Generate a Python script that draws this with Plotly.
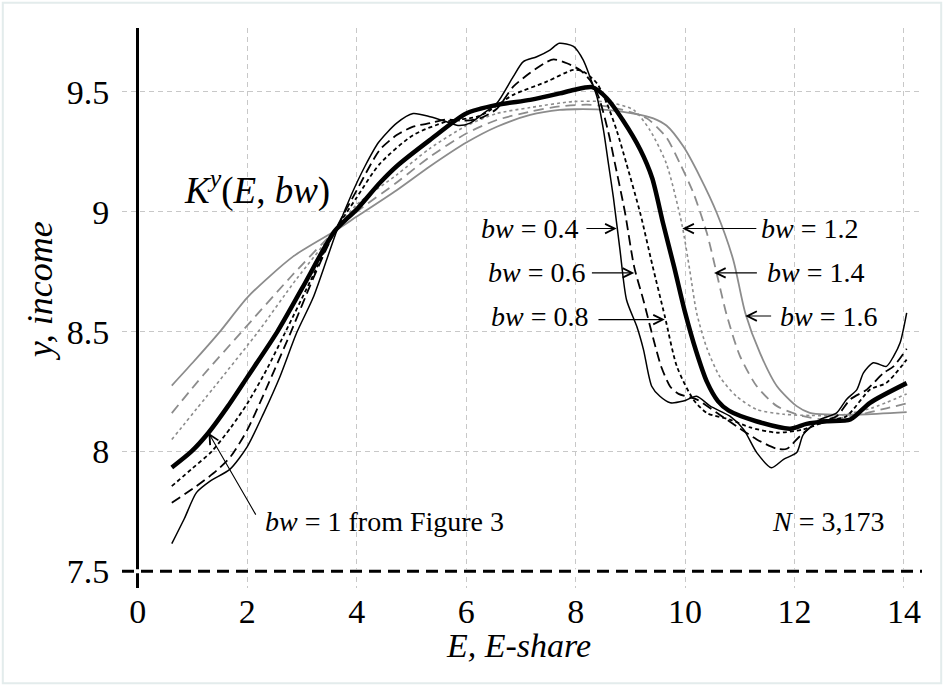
import plotly.graph_objects as go

# Kernel regression K^y(E, bw) of log income on E-share, for seven bandwidths
e_04 = [0.62, 0.85, 1.07, 1.32, 1.68, 2.0, 2.3, 2.6, 2.9, 3.2, 3.45, 3.65, 3.9, 4.15, 4.4, 4.73,
        5.03, 5.34, 5.64, 5.85, 6.07, 6.31, 6.56, 6.86, 7.04, 7.29, 7.53, 7.7, 7.96, 8.14, 8.26,
        8.39, 8.51, 8.6, 8.69, 8.81, 8.93, 9.12, 9.24, 9.39, 9.54, 9.73, 9.97, 10.21, 10.46,
        10.82, 11.07, 11.31, 11.58, 11.8, 12.04, 12.16, 12.47, 12.77, 12.95, 13.14, 13.26,
        13.44, 13.68, 13.81, 13.93, 14.05]
y_04 = [7.615, 7.72, 7.828, 7.876, 7.925, 8.02, 8.16, 8.314, 8.494, 8.64, 8.80, 8.93, 9.07,
        9.19, 9.29, 9.37, 9.41, 9.397, 9.376, 9.36, 9.37, 9.41, 9.453, 9.564, 9.626, 9.647,
        9.675, 9.703, 9.69, 9.633, 9.564, 9.48, 9.34, 9.20, 9.06, 8.842, 8.633, 8.52, 8.425,
        8.272, 8.23, 8.203, 8.21, 8.23, 8.189, 8.147, 8.092, 7.995, 7.932, 7.967, 7.995, 8.07,
        8.133, 8.161, 8.217, 8.258, 8.328, 8.37, 8.355, 8.397, 8.453, 8.578]

e_06 = [0.62, 1.07, 1.44, 1.7, 2.0, 2.4, 2.8, 3.2, 3.6, 4.0, 4.42, 4.73, 5.03, 5.34, 5.64,
        5.95, 6.25, 6.56, 6.86, 7.17, 7.47, 7.6, 7.84, 8.08, 8.26, 8.42, 8.6, 8.72, 8.9, 9.07,
        9.24, 9.42, 9.57, 9.73, 9.88, 10.21, 10.58, 10.94, 11.31, 11.68, 11.86, 12.1, 12.41,
        12.77, 13.02, 13.32, 13.63, 13.81, 14.05]
y_06 = [7.786, 7.855, 7.92, 7.98, 8.09, 8.29, 8.5, 8.72, 8.92, 9.09, 9.258, 9.32, 9.355, 9.37,
        9.385, 9.38, 9.39, 9.43, 9.522, 9.58, 9.625, 9.636, 9.62, 9.592, 9.55, 9.48, 9.33,
        9.2, 9.0, 8.77, 8.63, 8.47, 8.35, 8.27, 8.24, 8.217, 8.161, 8.105, 8.05, 8.011, 8.011,
        8.064, 8.12, 8.147, 8.217, 8.258, 8.328, 8.355, 8.428]

e_08 = [0.62, 1.0, 1.35, 1.7, 2.0, 2.35, 2.7, 3.15, 3.6, 4.0, 4.42, 5.03, 5.64, 6.25, 6.86,
        7.47, 7.96, 8.14, 8.39, 8.57, 8.75, 8.93, 9.18, 9.4, 9.63, 9.85, 10.15, 10.4, 10.82,
        11.19, 11.68, 12.16, 12.59, 12.95, 13.38, 13.68, 14.05]
y_08 = [7.855, 7.93, 8.0, 8.1, 8.2, 8.34, 8.5, 8.71, 8.92, 9.06, 9.2, 9.32, 9.376, 9.40, 9.488,
        9.543, 9.592, 9.585, 9.536, 9.453, 9.34, 9.2, 8.995, 8.78, 8.564, 8.355, 8.217, 8.16,
        8.133, 8.1, 8.078, 8.092, 8.126, 8.147, 8.258, 8.286, 8.383]

e_10 = [0.62, 0.98, 1.29, 1.65, 2.0, 2.55, 3.0, 3.6, 4.0, 4.42, 4.73, 5.34, 6.0, 6.56, 7.17,
        7.71, 7.96, 8.3, 8.57, 8.87, 9.18, 9.4, 9.6, 9.8, 10.0, 10.2, 10.4, 10.6, 10.8, 11.3,
        11.92, 12.22, 12.59, 13.02, 13.38, 14.05]
y_10 = [7.933, 8.0, 8.078, 8.19, 8.31, 8.5, 8.68, 8.92, 9.01, 9.12, 9.19, 9.3, 9.41, 9.446,
        9.467, 9.494, 9.508, 9.52, 9.474, 9.38, 9.26, 9.14, 8.95, 8.77, 8.58, 8.42, 8.29,
        8.21, 8.17, 8.126, 8.095, 8.115, 8.126, 8.133, 8.203, 8.285]

e_12 = [0.62, 1.4, 2.2, 2.9, 3.6, 4.0, 4.73, 5.34, 6.01, 6.56, 7.17, 7.96, 8.57, 9.06, 9.36,
        9.66, 9.94, 10.09, 10.21, 10.4, 10.64, 10.94, 11.31, 11.8, 12.3, 12.8, 13.4, 14.05]
y_12 = [8.05, 8.27, 8.5, 8.72, 8.92, 9.03, 9.154, 9.265, 9.36, 9.41, 9.435, 9.46, 9.458, 9.425,
        9.34, 9.2, 8.95, 8.75, 8.58, 8.43, 8.31, 8.23, 8.175, 8.155, 8.15, 8.15, 8.18, 8.24]

e_14 = [0.62, 1.2, 1.9, 2.8, 3.6, 4.0, 4.73, 5.34, 6.01, 6.56, 7.17, 7.71, 8.2, 8.57, 8.87,
        9.3, 9.66, 9.91, 10.15, 10.4, 10.55, 10.76, 11.0, 11.31, 11.68, 12.16, 12.59, 13.2,
        13.68, 14.05]
y_14 = [8.16, 8.32, 8.5, 8.73, 8.92, 9.0, 9.122, 9.23, 9.328, 9.383, 9.418, 9.44, 9.447, 9.44,
        9.425, 9.39, 9.31, 9.2, 9.08, 8.91, 8.77, 8.57, 8.4, 8.272, 8.189, 8.147, 8.133, 8.154,
        8.18, 8.2]

e_16 = [0.62, 1.0, 1.5, 2.02, 2.84, 3.6, 4.0, 4.73, 5.34, 6.01, 6.56, 7.17, 7.71, 8.0, 8.57,
        9.06, 9.42, 9.66, 9.97, 10.27, 10.58, 10.88, 11.1, 11.37, 11.68, 12.04, 12.28, 12.59,
        13.2, 14.05]
y_16 = [8.275, 8.37, 8.5, 8.647, 8.814, 8.92, 8.98, 9.09, 9.19, 9.29, 9.355, 9.404, 9.425,
        9.428, 9.425, 9.41, 9.39, 9.36, 9.272, 9.147, 8.995, 8.8, 8.578, 8.41, 8.272, 8.189,
        8.161, 8.154, 8.154, 8.164]

x_ticks = [0, 2, 4, 6, 8, 10, 12, 14]
y_ticks = [7.5, 8, 8.5, 9, 9.5]
y_ticktext = ["7.5", "8", "8.5", "9", "9.5"]

FONT = "Liberation Serif, Times New Roman, serif"
GREY = "#8c8c8c"

# drawing order: grey (wide bandwidths) underneath, the bw = 1 curve on top
series = [
    ("bw = 1.6", e_16, y_16, dict(color=GREY, width=1.8, dash="solid")),
    ("bw = 1.4", e_14, y_14, dict(color=GREY, width=1.8, dash="10px,6px")),
    ("bw = 1.2", e_12, y_12, dict(color=GREY, width=1.6, dash="3px,3px")),
    ("bw = 0.4", e_04, y_04, dict(color="black", width=1.5, dash="solid")),
    ("bw = 0.6", e_06, y_06, dict(color="black", width=1.8, dash="10px,5px")),
    ("bw = 0.8", e_08, y_08, dict(color="black", width=1.8, dash="4px,3px")),
    ("bw = 1", e_10, y_10, dict(color="black", width=4.5, dash="solid")),
]

fig = go.Figure()
for name, ex, ey, ln in series:
    fig.add_trace(go.Scatter(
        x=ex, y=ey, mode="lines", name=name,
        line=dict(shape="spline", smoothing=0.7, **ln),
        hoverinfo="skip",
    ))

# horizontal reference line at the bottom of the y scale
fig.add_shape(type="line", xref="paper", x0=0, x1=1, yref="y", y0=7.5, y1=7.5,
              line=dict(color="white", width=4), layer="above")
fig.add_shape(type="line", xref="paper", x0=0, x1=1, yref="y", y0=7.5, y1=7.5,
              line=dict(color="black", width=3, dash="12px,7px"), layer="above")

# light frame round the figure
fig.add_shape(type="rect", xref="paper", yref="paper", x0=-0.149, x1=1.024, y0=-0.170, y1=1.045,
              line=dict(color="#e3ecec", width=2), layer="below")

# labels with arrows pointing at the curves
labels = [
    ("<i>bw</i> = 0.4", 8.08, 8.93, "right"),
    ("<i>bw</i> = 0.6", 8.21, 8.745, "right"),
    ("<i>bw</i> = 0.8", 8.26, 8.565, "right"),
    ("<i>bw</i> = 1.2", 11.36, 8.93, "left"),
    ("<i>bw</i> = 1.4", 11.46, 8.745, "left"),
    ("<i>bw</i> = 1.6", 11.70, 8.565, "left"),
    ("<i>bw</i> = 1 from Figure 3", 2.285, 7.708, "left"),
    ("<i>N</i> = 3,173", 11.55, 7.708, "left"),
]
for text, lx, ly, anchor in labels:
    fig.add_annotation(x=lx, y=ly, xref="x", yref="y", text=text, showarrow=False,
                       xanchor=anchor, yanchor="middle",
                       font=dict(family=FONT, size=28, color="black"))

arrows = [  # (tip x, tip y, tail x, tail y)
    (8.75, 8.93, 8.17, 8.93),
    (9.07, 8.745, 8.27, 8.745),
    (9.63, 8.55, 8.39, 8.55),
    (9.95, 8.93, 11.33, 8.93),
    (10.53, 8.745, 11.34, 8.745),
    (11.10, 8.565, 11.60, 8.565),
    (1.29, 8.078, 2.17, 7.73),
]
for tx, ty, sx, sy in arrows:
    fig.add_annotation(x=tx, y=ty, ax=sx, ay=sy, xref="x", yref="y", axref="x", ayref="y",
                       text="", showarrow=True, arrowhead=5, arrowsize=1.7,
                       arrowwidth=1.1, arrowcolor="black", standoff=0, startstandoff=0)

fig.add_annotation(x=0.80, y=9.1, xref="x", yref="y", showarrow=False, xanchor="left",
                   yanchor="middle",
                   text="<i>K</i><sup><i>y</i></sup>(<i>E</i>, <i>bw</i>)",
                   font=dict(family=FONT, size=37, color="black"))

# axis titles
fig.add_annotation(x=0.495, y=-0.102, xref="paper", yref="paper", showarrow=False,
                   xanchor="center", yanchor="middle", text="<i>E, E-share</i>",
                   font=dict(family=FONT, size=34, color="black"))
fig.add_annotation(x=-0.1025, y=0.53, xref="paper", yref="paper", showarrow=False,
                   xanchor="center", yanchor="middle", text="<i>y, income</i>", textangle=-90,
                   font=dict(family=FONT, size=36, color="black"))

fig.update_layout(
    width=944, height=686,
    margin=dict(l=122, r=22, t=28, b=98),
    paper_bgcolor="white", plot_bgcolor="white",
    showlegend=False,
    font=dict(family=FONT, color="black"),
    xaxis=dict(
        range=[-0.29, 14.33], tickmode="array", tickvals=x_ticks,
        showgrid=True, gridcolor="#c8c8c8", gridwidth=1, griddash="5px,4px",
        zeroline=True, zerolinecolor="black", zerolinewidth=3,
        showline=False, ticks="", tickfont=dict(family=FONT, size=34, color="black"),
    ),
    yaxis=dict(
        range=[7.43, 9.767], tickmode="array", tickvals=y_ticks, ticktext=y_ticktext,
        showgrid=True, gridcolor="#c8c8c8", gridwidth=1, griddash="5px,4px",
        zeroline=False, showline=False,
        ticks="outside", ticklen=5, tickcolor="rgba(0,0,0,0)",
        tickfont=dict(family=FONT, size=34, color="black"),
    ),
)

fig.write_html("out.html")
